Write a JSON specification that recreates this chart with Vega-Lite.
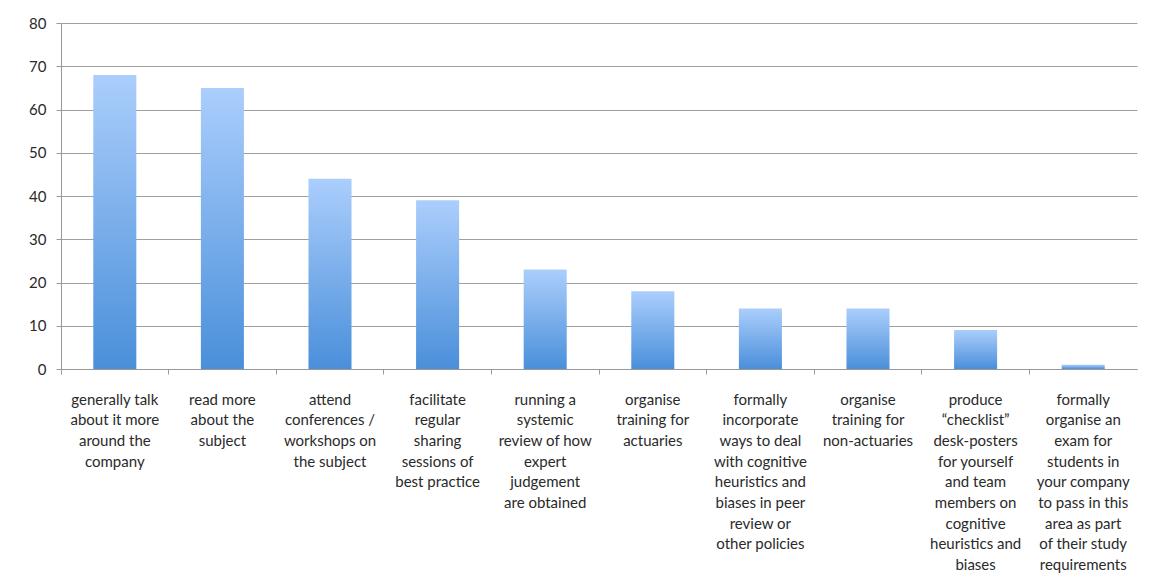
{
  "$schema": "https://vega.github.io/schema/vega-lite/v6.json",
  "autosize": {"type": "none"},
  "width": 1076,
  "height": 346,
  "padding": {"left": 61, "top": 23, "right": 13, "bottom": 218},
  "background": "white",
  "data": {
    "values": [
      {"label": "generally talk|about it more|around the|company", "value": 68},
      {"label": "read more|about the|subject", "value": 65},
      {"label": "attend|conferences /|workshops on|the subject", "value": 44},
      {"label": "facilitate|regular|sharing|sessions of|best practice", "value": 39},
      {"label": "running a|systemic|review of how|expert|judgement|are obtained", "value": 23},
      {"label": "organise|training for|actuaries", "value": 18},
      {"label": "formally|incorporate|ways to deal|with cognitive|heuristics and|biases in peer|review or|other policies", "value": 14},
      {"label": "organise|training for|non-actuaries", "value": 14},
      {"label": "produce|“checklist”|desk-posters|for yourself|and team|members on|cognitive|heuristics and|biases", "value": 9},
      {"label": "formally|organise an|exam for|students in|your company|to pass in this|area as part|of their study|requirements", "value": 1}
    ]
  },
  "mark": {
    "type": "bar",
    "color": {
      "gradient": "linear",
      "x1": 0, "y1": 0, "x2": 0, "y2": 1,
      "stops": [
        {"offset": 0, "color": "#abcefc"},
        {"offset": 1, "color": "#4a8fda"}
      ]
    }
  },
  "encoding": {
    "x": {
      "field": "label",
      "type": "nominal",
      "sort": null,
      "title": null,
      "scale": {"paddingInner": 0.6, "paddingOuter": 0.3},
      "axis": {
        "labelAngle": 0,
        "labelExpr": "split(datum.label, '|')",
        "labelAlign": "center",
        "labelBaseline": "top",
        "labelPadding": 18,
        "labelOffset": 0,
        "labelLimit": 0,
        "labelLineHeight": 20.7,
        "labelFont": "Lato",
        "labelFontSize": 15,
        "labelColor": "#2a2a2a",
        "bandPosition": -0.75,
        "tickSize": 5,
        "tickColor": "#999999",
        "domainColor": "#999999",
        "grid": false
      }
    },
    "y": {
      "field": "value",
      "type": "quantitative",
      "title": null,
      "scale": {"domain": [0, 80]},
      "axis": {
        "values": [0, 10, 20, 30, 40, 50, 60, 70, 80],
        "labelFont": "Lato",
        "labelFontSize": 15,
        "labelColor": "#2a2a2a",
        "labelPadding": 10,
        "tickSize": 5,
        "tickColor": "#999999",
        "domainColor": "#999999",
        "gridColor": "#a0a0a0",
        "gridWidth": 1
      }
    }
  },
  "config": {"view": {"stroke": null}}
}
